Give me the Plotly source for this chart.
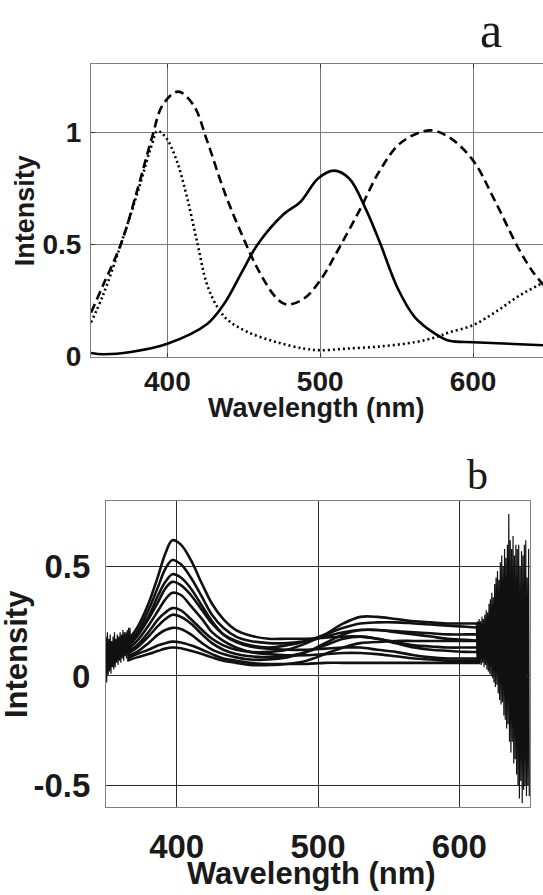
import numpy as np
import plotly.graph_objects as go

# ---------------- Panel a data ----------------
wl_solid = [350, 358, 376, 400, 426, 437.6, 449, 459, 476, 487, 498.6, 509, 519, 530, 539, 550.7, 562, 575.6, 584.6, 600, 620, 646]
int_solid = [0.016, 0.01, 0.02, 0.057, 0.145, 0.24, 0.38, 0.50, 0.635, 0.69, 0.795, 0.83, 0.795, 0.656, 0.51, 0.305, 0.175, 0.10, 0.07, 0.064, 0.058, 0.05]

wl_dashed = [350, 358, 370, 381, 390, 397, 407, 417, 426, 437.6, 449, 460, 471.5, 478, 489.6, 501, 512, 526, 539, 553, 572, 584.6, 600, 614, 630, 639, 646]
int_dashed = [0.196, 0.32, 0.51, 0.76, 0.98, 1.124, 1.183, 1.124, 0.963, 0.73, 0.54, 0.38, 0.26, 0.232, 0.26, 0.35, 0.48, 0.656, 0.83, 0.956, 1.01, 0.978, 0.876, 0.70, 0.48, 0.38, 0.32]

wl_dotted = [350, 358, 370, 381, 390, 393.5, 399, 406, 412.7, 419.5, 426, 433, 440, 453, 471.5, 489.6, 500, 517, 539, 562, 575.6, 584.6, 600, 615, 630, 646]
int_dotted = [0.152, 0.276, 0.51, 0.744, 0.95, 1.007, 0.978, 0.876, 0.715, 0.51, 0.32, 0.218, 0.16, 0.108, 0.064, 0.035, 0.028, 0.035, 0.045, 0.064, 0.086, 0.108, 0.14, 0.2, 0.27, 0.33]

# ---------------- Panel b data ----------------
wl_b = [365, 372, 380, 387, 392, 397, 403, 410, 418, 425, 433, 442, 452, 465, 478, 492, 505, 518, 530, 542, 555, 568, 580, 592, 605, 615]
b_c1 = [0.16, 0.22, 0.33, 0.46, 0.56, 0.62, 0.60, 0.53, 0.42, 0.33, 0.26, 0.21, 0.185, 0.17, 0.17, 0.17, 0.175, 0.18, 0.18, 0.17, 0.15, 0.13, 0.12, 0.115, 0.11, 0.11]
b_c2 = [0.15, 0.20, 0.30, 0.41, 0.49, 0.53, 0.51, 0.45, 0.36, 0.28, 0.22, 0.18, 0.16, 0.15, 0.15, 0.16, 0.18, 0.20, 0.21, 0.21, 0.20, 0.19, 0.18, 0.17, 0.165, 0.16]
b_c3 = [0.14, 0.19, 0.27, 0.37, 0.43, 0.465, 0.45, 0.40, 0.32, 0.25, 0.19, 0.155, 0.135, 0.125, 0.12, 0.12, 0.125, 0.13, 0.13, 0.12, 0.11, 0.095, 0.085, 0.08, 0.08, 0.08]
b_c4 = [0.13, 0.18, 0.26, 0.34, 0.40, 0.43, 0.415, 0.37, 0.30, 0.24, 0.19, 0.16, 0.14, 0.13, 0.14, 0.16, 0.19, 0.22, 0.24, 0.245, 0.245, 0.24, 0.235, 0.23, 0.225, 0.22]
b_c5 = [0.12, 0.16, 0.23, 0.30, 0.35, 0.38, 0.37, 0.32, 0.26, 0.20, 0.16, 0.13, 0.11, 0.10, 0.095, 0.095, 0.10, 0.105, 0.105, 0.10, 0.09, 0.08, 0.075, 0.07, 0.07, 0.07]
b_c6 = [0.11, 0.14, 0.20, 0.26, 0.29, 0.31, 0.30, 0.26, 0.21, 0.17, 0.14, 0.12, 0.11, 0.11, 0.12, 0.15, 0.19, 0.24, 0.27, 0.27, 0.26, 0.25, 0.245, 0.24, 0.24, 0.24]
b_c7 = [0.10, 0.13, 0.18, 0.23, 0.26, 0.28, 0.27, 0.24, 0.19, 0.15, 0.12, 0.10, 0.09, 0.085, 0.09, 0.11, 0.14, 0.17, 0.18, 0.17, 0.155, 0.14, 0.135, 0.13, 0.13, 0.13]
b_c8 = [0.09, 0.11, 0.15, 0.19, 0.21, 0.22, 0.215, 0.19, 0.15, 0.12, 0.10, 0.085, 0.075, 0.075, 0.085, 0.11, 0.15, 0.19, 0.21, 0.21, 0.205, 0.20, 0.195, 0.19, 0.19, 0.19]
b_c9 = [0.08, 0.10, 0.12, 0.14, 0.15, 0.157, 0.153, 0.14, 0.12, 0.10, 0.08, 0.07, 0.06, 0.055, 0.055, 0.055, 0.06, 0.06, 0.06, 0.06, 0.06, 0.06, 0.06, 0.06, 0.06, 0.06]
b_c10 = [0.07, 0.085, 0.10, 0.115, 0.125, 0.13, 0.127, 0.115, 0.10, 0.085, 0.07, 0.06, 0.05, 0.05, 0.055, 0.07, 0.10, 0.13, 0.15, 0.155, 0.16, 0.16, 0.16, 0.16, 0.16, 0.16]
b_curves = [b_c1, b_c2, b_c3, b_c4, b_c5, b_c6, b_c7, b_c8, b_c9, b_c10]

# noisy ends of the measured spectra (upper / lower excursions per nm)
noise_left_wl = [350, 351, 352, 353, 354, 355, 356, 357, 358, 359, 360, 361, 362, 363, 364, 365, 366, 367]
noise_left_hi = [0.18, 0.20, 0.17, 0.19, 0.16, 0.18, 0.20, 0.17, 0.19, 0.18, 0.20, 0.19, 0.21, 0.20, 0.20, 0.21, 0.22, 0.22]
noise_left_lo = [-0.03, 0.00, 0.02, 0.01, 0.04, 0.03, 0.04, 0.06, 0.05, 0.07, 0.06, 0.08, 0.07, 0.09, 0.08, 0.10, 0.09, 0.11]

noise_right_wl = [612, 613, 614, 615, 616, 617, 618, 619, 620, 621, 622, 623, 624, 625, 626, 627, 628, 629, 630, 631,
                  632, 633, 634, 635, 636, 637, 638, 639, 640, 641, 642, 643, 644, 645, 646, 647, 648, 649]
noise_right_hi = [0.24, 0.25, 0.26, 0.25, 0.27, 0.26, 0.28, 0.30, 0.29, 0.33, 0.35, 0.38, 0.36, 0.42, 0.45, 0.48, 0.44, 0.52, 0.55, 0.50,
                  0.58, 0.54, 0.60, 0.74, 0.62, 0.58, 0.64, 0.55, 0.60, 0.58, 0.60, 0.50, 0.57, 0.55, 0.60, 0.62, 0.45, 0.58]
noise_right_lo = [0.07, 0.06, 0.06, 0.05, 0.06, 0.04, 0.05, 0.03, 0.02, 0.01, 0.00, -0.01, -0.03, -0.05, -0.04, -0.08, -0.11, -0.13, -0.12, -0.18,
                  -0.20, -0.24, -0.22, -0.30, -0.35, -0.30, -0.40, -0.38, -0.45, -0.50, -0.56, -0.48, -0.58, -0.52, -0.50, -0.55, -0.50, -0.55]

x_ticks = [400, 500, 600]
ya_ticks = [0, 0.5, 1]
ya_labels = ["0", "0.5", "1"]
yb_ticks = [-0.5, 0, 0.5]
yb_labels = ["-0.5", "0", "0.5"]

W, H = 543, 895


def zigzag(wl, hi, lo):
    xs, ys = [], []
    for w, h, l in zip(wl, hi, lo):
        xs += [w, w + 0.5]
        ys += [h, l]
    return xs, ys


fig = go.Figure()

# panel a
fig.add_trace(go.Scatter(x=wl_dotted, y=int_dotted, mode="lines", line=dict(color="black", width=2.6, dash="2px,3px", shape="spline"),
                         xaxis="x", yaxis="y", showlegend=False))
fig.add_trace(go.Scatter(x=wl_dashed, y=int_dashed, mode="lines", line=dict(color="black", width=2.6, dash="9px,5px", shape="spline"),
                         xaxis="x", yaxis="y", showlegend=False))
fig.add_trace(go.Scatter(x=wl_solid, y=int_solid, mode="lines", line=dict(color="black", width=2.6, shape="spline"),
                         xaxis="x", yaxis="y", showlegend=False))

# panel b
for c in b_curves:
    fig.add_trace(go.Scatter(x=wl_b, y=c, mode="lines", line=dict(color="#111", width=2.6, shape="spline"),
                             xaxis="x2", yaxis="y2", showlegend=False))
zx, zy = zigzag(noise_left_wl, noise_left_hi, noise_left_lo)
fig.add_trace(go.Scatter(x=zx, y=zy, mode="lines", line=dict(color="#111", width=1.2), xaxis="x2", yaxis="y2", showlegend=False))
zx, zy = zigzag(noise_right_wl, noise_right_hi, noise_right_lo)
fig.add_trace(go.Scatter(x=zx, y=zy, mode="lines", line=dict(color="#111", width=1.2), xaxis="x2", yaxis="y2", showlegend=False))

tick_font_a = dict(family="Liberation Sans, Arial", size=28, color="#1a1a1a", weight="bold")
tick_font_b = dict(family="Liberation Sans, Arial", size=33, color="#1a1a1a", weight="bold")

# pixel geometry
ax_l, ax_r, ax_t, ax_b = 91, 543, 65, 363
bx_l, bx_r, bx_t, bx_b = 106, 530, 510, 822

common = dict(showline=True, linecolor="#808080", linewidth=1, ticks="inside", ticklen=4, tickcolor="#333",
              zeroline=False)

fig.update_layout(
    width=W, height=H, margin=dict(l=0, r=0, t=0, b=0),
    paper_bgcolor="white", plot_bgcolor="white",
    xaxis=dict(domain=[ax_l / W, ax_r / W], range=[350, 350 + (ax_r - ax_l) / 1.528], tickvals=x_ticks,
               showgrid=True, gridcolor="#7a7a7a", gridwidth=1, mirror="ticks", tickfont=tick_font_a,
               anchor="y", **common),
    yaxis=dict(domain=[1 - ax_b / H, 1 - ax_t / H], range=[0, 1.307], tickvals=ya_ticks, ticktext=ya_labels,
               showgrid=True, gridcolor="#7a7a7a", gridwidth=1, mirror=False, tickfont=tick_font_a,
               ticklabelstandoff=3, anchor="x", **common),
    xaxis2=dict(domain=[bx_l / W, bx_r / W], range=[350, 650], tickvals=x_ticks,
                showgrid=True, gridcolor="#2a2a2a", gridwidth=1, mirror="ticks", tickfont=tick_font_b,
                ticklabelstandoff=10, anchor="y2", **common),
    yaxis2=dict(domain=[1 - bx_b / H, 1 - bx_t / H], range=[-0.6, 0.8], tickvals=yb_ticks, ticktext=yb_labels,
                showgrid=True, gridcolor="#2a2a2a", gridwidth=1, mirror="ticks", tickfont=tick_font_b,
                ticklabelstandoff=8, anchor="x2", **common),
)

title_font_a = dict(family="Liberation Sans, Arial", size=27, color="#1a1a1a", weight="bold")
title_font_b = dict(family="Liberation Sans, Arial", size=31, color="#1a1a1a", weight="bold")

ann = [
    dict(text="Wavelength (nm)", x=316 / W, y=1 - 415 / H, font=title_font_a),
    dict(text="Intensity", x=25 / W, y=1 - 215 / H, font=title_font_a, textangle=-90),
    dict(text="Wavelength (nm)", x=311 / W, y=1 - 889 / H, font=title_font_b),
    dict(text="Intensity", x=16 / W, y=1 - 666 / H, font=title_font_b, textangle=-90),
    dict(text="a", x=491 / W, y=1.0, yanchor="top",
         font=dict(family="Liberation Serif, Times New Roman", size=50, color="#1a1a1a")),
    dict(text="b", x=477 / W, y=1 - 484 / H, font=dict(family="Liberation Serif, Times New Roman", size=42, color="#1a1a1a")),
]
for a in ann:
    a.setdefault("yanchor", "middle")
    a.update(xref="paper", yref="paper", showarrow=False, xanchor="center")
fig.update_layout(annotations=ann)

fig.write_html("out.html", config={"displayModeBar": False},
               post_script="document.body.style.margin='0';document.body.style.overflow='hidden';")
